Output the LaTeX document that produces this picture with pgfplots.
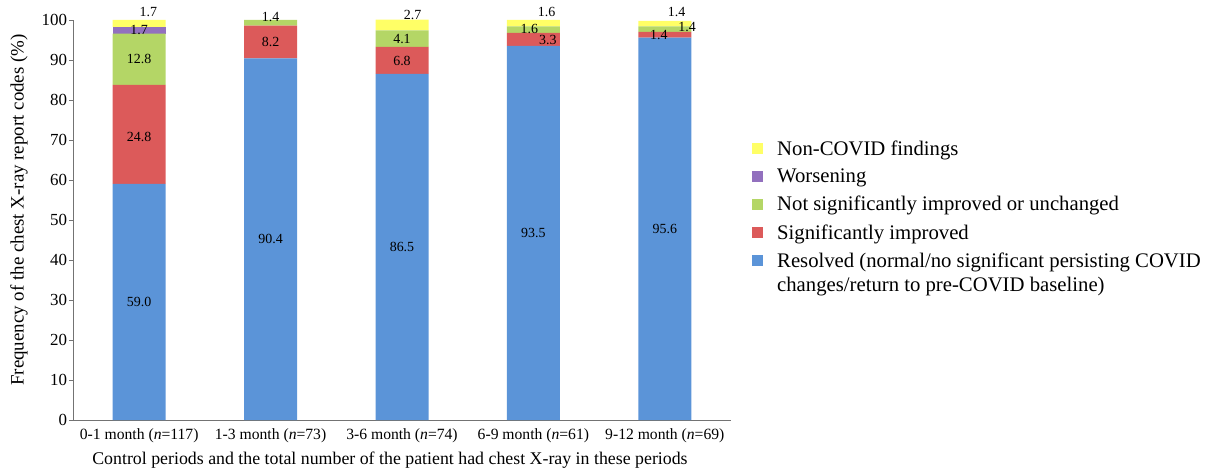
\documentclass[border=0pt]{standalone}
\usepackage{fontspec}
\setmainfont{Liberation Serif}
\usepackage{pgfplots}
\pgfplotsset{compat=1.18}

\definecolor{cres}{RGB}{91,148,216}
\definecolor{csig}{RGB}{220,90,90}
\definecolor{cnot}{RGB}{180,214,102}
\definecolor{cwor}{RGB}{146,112,190}
\definecolor{cnon}{RGB}{255,255,102}

\begin{document}
\begin{tikzpicture}
\pgfplotsset{
  common/.style={
    width=657bp, height=400bp, scale only axis,
    xmin=-0.5, xmax=4.5, ymin=0, ymax=100,
  },
  sq/.style={legend image code/.code={\fill[##1] (0bp,-5.5bp) rectangle (11bp,5.5bp);}},
  sqhigh/.style={legend image code/.code={\fill[##1] (0bp,7bp) rectangle (11bp,18bp);}},
}
\begin{axis}[common,
  ybar stacked, bar width=53bp,
  axis x line*=bottom, axis y line*=left,
  axis line style={black!55},
  xtick={0,1,2,3,4},
  xticklabels={0-1 month (\textit{n}=117), 1-3 month (\textit{n}=73), 3-6 month (\textit{n}=74), 6-9 month (\textit{n}=61), 9-12 month (\textit{n}=69)},
  xtick style={draw=none},
  ytick={0,10,...,100},
  tick align=outside, major tick length=4bp,
  ytick style={black!55},
  /pgf/number format/assume math mode=true,
  yticklabel style={font=\fontsize{17}{17}\selectfont, xshift=1bp},
  xticklabel style={font=\fontsize{15.7}{15.7}\selectfont, yshift=-1bp},
  xlabel={Control periods and the total number of the patient had chest X-ray in these periods},
  ylabel={Frequency of the chest X-ray report codes (\%)},
  xlabel style={font=\fontsize{17.9}{17.9}\selectfont, at={(axis description cs:0.4817,-0.1)}, anchor=center},
  ylabel style={font=\fontsize{19}{19}\selectfont, at={(axis description cs:-0.083,0.525)}, anchor=center},
  reverse legend,
  legend style={draw=none, at={(axis description cs:1.0327,0.704)}, anchor=north west,
    font=\fontsize{20.8}{24}\selectfont, cells={anchor=west, align=left},
    /tikz/every odd column/.append style={column sep=12bp},
    row sep=8.2bp, inner sep=0pt},
]
\addplot[fill=cres, draw=none, sqhigh]
  coordinates {(0,59.0) (1,90.4) (2,86.5) (3,93.5) (4,95.6)};
\addlegendentry{Resolved (normal/no significant persisting COVID\\changes/return to pre-COVID baseline)}
\addplot[fill=csig, draw=none, sq] coordinates {(0,24.8) (1,8.2) (2,6.8) (3,3.3) (4,1.4)};
\addlegendentry{Significantly improved}
\addplot[fill=cnot, draw=none, sq] coordinates {(0,12.8) (1,1.4) (2,4.1) (3,1.6) (4,1.4)};
\addlegendentry{Not significantly improved or unchanged}
\addplot[fill=cwor, draw=none, sq] coordinates {(0,1.7) (1,0) (2,0) (3,0) (4,0)};
\addlegendentry{Worsening}
\addplot[fill=cnon, draw=none, sq] coordinates {(0,1.7) (1,0) (2,2.7) (3,1.6) (4,1.4)};
\addlegendentry{Non-COVID findings}
\end{axis}

% value labels, on an overlaid axis with the same scale
\begin{axis}[common, hide axis, clip=false]
\addplot[draw=none, mark=none, nodes near coords, point meta=explicit symbolic,
  every node near coord/.style={anchor=center, text=black, inner sep=0pt, font=\fontsize{14}{14}\selectfont}]
  coordinates {
  (0,29.5)[59.0] (0,70.8)[24.8] (0,90.2)[12.8] (0,97.4)[1.7] (0.07,102.1)[1.7]
  (1,45.2)[90.4] (1,94.5)[8.2] (1,100.7)[1.4]
  (2,43.3)[86.5] (2,89.8)[6.8] (2,95.3)[4.1] (2.08,101.3)[2.7]
  (3,46.8)[93.5] (3.11,95.0)[3.3] (2.97,97.8)[1.6] (3.1,102.0)[1.6]
  (4,47.8)[95.6] (3.955,96.3)[1.4] (4.17,98.3)[1.4] (4.09,102.0)[1.4]
  };
\end{axis}
\pgfresetboundingbox
\path[use as bounding box] (-73.5bp,-52bp) rectangle (1136.5bp,420bp);
\end{tikzpicture}
\end{document}
